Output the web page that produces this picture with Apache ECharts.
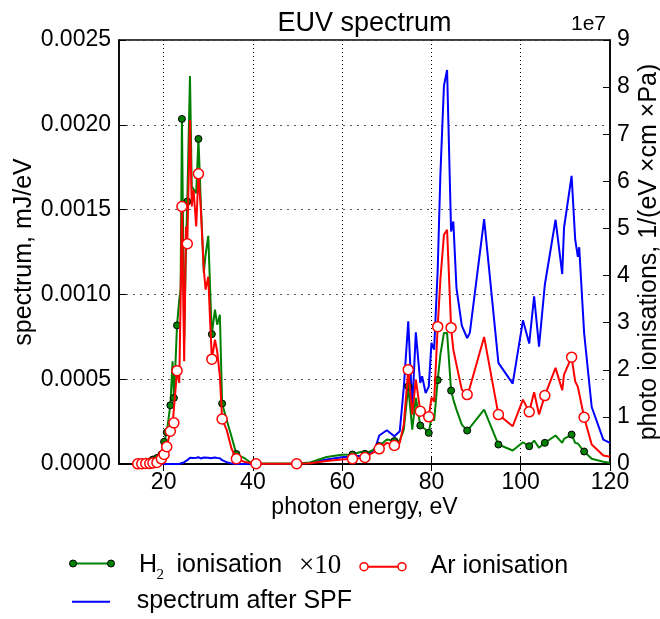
<!DOCTYPE html>
<html><head><meta charset="utf-8">
<script src="https://cdn.jsdelivr.net/npm/echarts@6/dist/echarts.min.js"></script>
<style>html,body{margin:0;padding:0;background:#fff}#c{width:660px;height:619px}</style>
</head><body><div id="c"></div>
<script>
// photon energy grid, eV
const energy = [14.2,15.1,16.0,16.9,17.6,18.5,19.5,20.1,20.7,21.5,22.0,22.3,22.6,23.0,23.5,23.8,24.1,24.6,25.0,25.3,
  25.9,26.3,26.7,27.3,27.8,28.3,29.0,29.4,30.0,30.5,30.8,31.5,32.0,32.6,33.1,34.1,35.2,36.3,38.2,39.5,
  40.7,49.8,52.8,56.5,59.9,62.3,64.3,65.1,66.6,67.4,68.3,70.0,71.7,72.9,73.8,74.8,75.7,76.5,77.5,77.9,
  78.7,79.4,80.0,80.6,81.4,82.0,82.8,83.5,84.4,84.9,85.6,86.8,88.0,88.6,91.8,95.0,98.2,100.5,101.9,103.0,
  104.1,105.4,107.8,109.3,109.7,111.4,112.2,112.8,113.1,114.2,115.9,118.5,120.0];
// spectrum after SPF, mJ/eV (left axis)
const spectrumSPF = [0,0,0,0,0,0,0,0,0,0,0,0,0,0,0,0,0.0000059,0.0000106,0.0000177,0.0000224,
  0.0000365,0.0000383,0.0000353,0.0000371,0.0000400,0.0000324,0.0000383,0.0000353,0.0000365,0.0000336,0.0000324,0.0000383,0.0000353,0.0000342,0.0000224,0.0000106,0.0000030,0,0,0,
  0,0.0000012,0.0000071,0.0000265,0.0000400,0.0000459,0.0000483,0.0000500,0.0000736,0.0000913,0.0001678,0.0001990,0.0001637,0.0001930,0.000450,0.000841,0.000331,0.000776,0.000478,0.000517,
  0.000419,0.000456,0.000714,0.000674,0.001145,0.001705,0.002231,0.002323,0.001371,0.001430,0.001039,0.000816,0.000743,0.000773,0.001444,0.000596,0.000474,0.000847,0.000710,0.000988,
  0.000692,0.001057,0.001440,0.001120,0.001393,0.001699,0.001325,0.001222,0.001278,0.000773,0.000336,0.000144,0.000125];
// H2 ionisation x10, in units of 1e7 (right axis)
const h2Ionisation = [0.011,0.021,0.032,0.053,0.095,0.127,0.201,0.471,0.674,1.247,2.179,1.403,2.003,2.943,3.488,3.700,7.325,2.640,4.548,5.572,
  8.237,5.890,5.926,5.750,6.901,5.608,4.060,4.442,4.844,3.488,2.756,3.276,2.958,3.170,1.283,0.943,0.583,0.212,0.117,0.032,
  0.011,0.011,0.032,0.148,0.195,0.201,0.259,0.216,0.286,0.329,0.382,0.519,0.488,0.498,0.731,1.649,0.731,1.403,0.816,0.837,
  0.731,0.661,0.986,0.922,1.781,2.322,2.782,2.782,1.558,1.367,1.155,0.837,0.710,0.774,1.155,0.413,0.286,0.462,0.377,0.498,
  0.343,0.449,0.604,0.449,0.534,0.625,0.449,0.435,0.413,0.265,0.110,0.047,0.025];
// Ar ionisation, in units of 1e7 (right axis)
const arIonisation = [0.004,0.006,0.011,0.011,0.021,0.032,0.110,0.201,0.365,0.695,0.837,0.873,1.509,1.982,1.722,3.488,5.466,2.179,5.042,4.675,
  7.304,5.466,5.820,5.042,6.159,5.466,4.124,3.700,3.975,2.852,2.226,2.640,2.391,1.861,0.954,0.731,0.329,0.110,0.042,0.021,
  0.006,0.006,0.015,0.064,0.095,0.110,0.127,0.138,0.223,0.265,0.322,0.449,0.392,0.449,0.837,2.003,1.049,1.791,1.119,1.155,
  1.071,1.001,1.410,1.325,2.915,3.912,4.866,4.972,2.894,2.428,2.110,1.579,1.473,1.622,2.697,1.049,0.801,1.367,1.107,1.522,
  1.049,1.452,2.040,1.565,1.897,2.268,1.755,1.637,1.664,0.992,0.413,0.180,0.153];
// energies at which markers are drawn
const markerEnergies = [14.2,15.1,16.0,16.9,17.6,18.5,19.5,20.1,20.7,21.5,22.3,23.0,24.1,25.3,27.8,30.8,33.1,36.3,40.7,
  49.8,62.3,65.1,68.3,71.7,74.8,77.5,79.4,81.4,84.4,88.0,95.0,101.9,105.4,111.4,114.2];
const xTicks = [20,40,60,80,100,120];
const leftTicks = [0,0.0005,0.0010,0.0015,0.0020,0.0025];
const rightTicks = [0,1,2,3,4,5,6,7,8,9];

const F = '"Liberation Sans", Arial, sans-serif';
const SERIF = '"Liberation Serif", "DejaVu Serif", serif';
const chart = echarts.init(document.getElementById('c'), null, {renderer:'canvas'});
function withMarkers(vals){
  return energy.map((e,i)=>({value:[e, vals[i]], symbol: markerEnergies.includes(e) ? 'circle' : 'none'}));
}
const tickStyle = {inside:true, length:7, lineStyle:{color:'#000', width:1}};
const lineAx = {show:true, lineStyle:{color:'#000', width:1.5}};
const option = {
  animation:false,
  backgroundColor:'#fff',
  grid:{left:119, right:50, top:40, bottom:155, show:true, borderColor:'#000', borderWidth:1.5,
        backgroundColor:'transparent', containLabel:false, outerBoundsMode:'none'},
  xAxis:[
    {type:'value', min:10, max:120, splitNumber:5, position:'bottom',
     name:'photon energy, eV', nameLocation:'middle', nameGap:32, nameMoveOverlap:false,
     nameTextStyle:{fontFamily:F, fontSize:23, color:'#000'},
     axisLine:lineAx, axisTick:{...tickStyle, customValues:xTicks},
     axisLabel:{customValues:xTicks, margin:7, fontFamily:F, fontSize:23, color:'#000'},
     splitLine:{show:true, lineStyle:{color:'#000', width:1, type:[1,3]}}},
    {type:'value', min:10, max:120, splitNumber:5, position:'top',
     axisLine:lineAx, axisTick:{...tickStyle, customValues:xTicks}, axisLabel:{show:false}, splitLine:{show:false}}
  ],
  yAxis:[
    {type:'value', min:0, max:0.0025, interval:0.0005, position:'left',
     name:'spectrum, mJ/eV', nameLocation:'middle', nameGap:82, nameMoveOverlap:false,
     nameTextStyle:{fontFamily:F, fontSize:25, color:'#000'},
     axisLine:lineAx, axisTick:tickStyle,
     axisLabel:{margin:8, fontFamily:F, fontSize:23, color:'#000', formatter:v=>v.toFixed(4)},
     splitLine:{show:true, lineStyle:{color:'#555', width:1, type:[2,5]}}},
    {type:'value', min:0, max:9, interval:1, position:'right',
     name:'photo ionisations, 1/(eV \u00d7cm \u00d7Pa)', nameLocation:'middle', nameGap:27, nameRotate:90,
     nameMoveOverlap:false,
     nameTextStyle:{fontFamily:F, fontSize:25, color:'#000'},
     axisLine:lineAx, axisTick:tickStyle,
     axisLabel:{margin:7, fontFamily:F, fontSize:23, color:'#000'},
     splitLine:{show:false}}
  ],
  series:[
    {type:'line', name:'spectrum after SPF', xAxisIndex:0, yAxisIndex:0, z:2,
     data: energy.map((e,i)=>[e, spectrumSPF[i]]), symbol:'none',
     lineStyle:{color:'#0000ff', width:2}, emphasis:{disabled:true}, silent:true},
    {type:'line', name:'H2 ionisation x10', xAxisIndex:0, yAxisIndex:1, z:3,
     data: withMarkers(h2Ionisation), symbolSize:7, showSymbol:true,
     itemStyle:{color:'#008000', borderColor:'#000', borderWidth:1},
     lineStyle:{color:'#008000', width:2}, emphasis:{disabled:true}, silent:true},
    {type:'line', name:'Ar ionisation', xAxisIndex:0, yAxisIndex:1, z:4,
     data: withMarkers(arIonisation), symbolSize:10, showSymbol:true,
     itemStyle:{color:'#fff', borderColor:'#ff0000', borderWidth:1.5},
     lineStyle:{color:'#ff0000', width:2}, emphasis:{disabled:true}, silent:true}
  ],
  graphic:[
    {type:'text', x:364.5, y:23.5, style:{text:'EUV spectrum', font:'27px '+F, fill:'#000', align:'center', verticalAlign:'middle'}},
    {type:'text', x:606, y:24.5, style:{text:'1e7', font:'21px '+F, fill:'#000', align:'right', verticalAlign:'middle'}},
    // legend row 1: H2
    {type:'line', shape:{x1:73, y1:563.5, x2:111, y2:563.5}, style:{stroke:'#008000', lineWidth:2}},
    {type:'circle', shape:{cx:73, cy:563.5, r:3.5}, style:{fill:'#008000', stroke:'#000', lineWidth:1}},
    {type:'circle', shape:{cx:111, cy:563.5, r:3.5}, style:{fill:'#008000', stroke:'#000', lineWidth:1}},
    {type:'text', x:139, y:565.5, style:{text:'H', font:'25px '+F, fill:'#000', align:'left', verticalAlign:'middle'}},
    {type:'text', x:156.5, y:575, style:{text:'2', font:'15px '+SERIF, fill:'#000', align:'left', verticalAlign:'middle'}},
    {type:'text', x:176.5, y:565.5, style:{text:'ionisation', font:'25px '+F, fill:'#000', align:'left', verticalAlign:'middle'}},
    {type:'text', x:299, y:566, style:{text:'\u00d710', font:'27px '+SERIF, fill:'#000', align:'left', verticalAlign:'middle'}},
    // legend: Ar
    {type:'line', shape:{x1:364, y1:566.7, x2:402, y2:566.7}, style:{stroke:'#ff0000', lineWidth:2}},
    {type:'circle', shape:{cx:364, cy:566.7, r:4}, style:{fill:'#fff', stroke:'#ff0000', lineWidth:1.5}},
    {type:'circle', shape:{cx:402, cy:566.7, r:4}, style:{fill:'#fff', stroke:'#ff0000', lineWidth:1.5}},
    {type:'text', x:430.5, y:566.2, style:{text:'Ar ionisation', font:'25px '+F, fill:'#000', align:'left', verticalAlign:'middle'}},
    // legend row 2: spectrum
    {type:'line', shape:{x1:72, y1:601.7, x2:110, y2:601.7}, style:{stroke:'#0000ff', lineWidth:2}},
    {type:'text', x:136.7, y:601.3, style:{text:'spectrum after SPF', font:'25px '+F, fill:'#000', align:'left', verticalAlign:'middle'}}
  ]
};
chart.setOption(option);
</script>
</body></html>
